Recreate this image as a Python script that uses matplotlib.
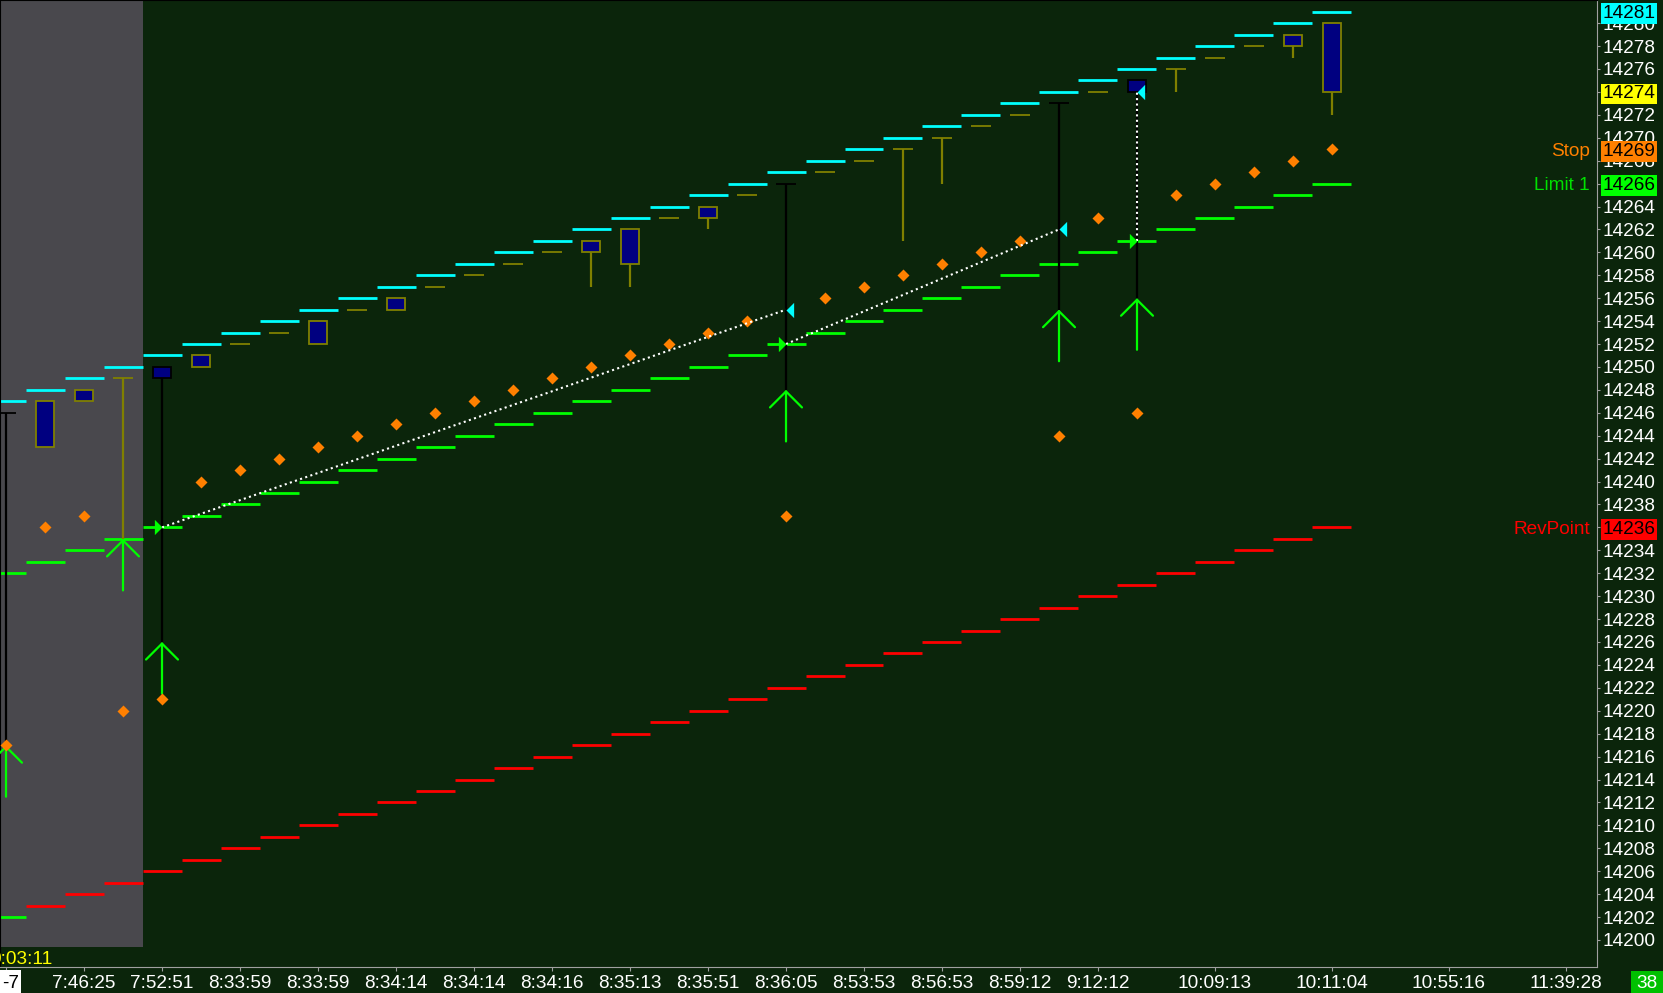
import matplotlib
matplotlib.use("Agg")
import matplotlib.pyplot as plt
import numpy as np
from matplotlib.patches import Rectangle
from matplotlib.transforms import blended_transform_factory

plt.rcParams['font.family'] = ['Liberation Sans', 'DejaVu Sans']

# --- bar data (one value per bar, 35 bars) ---
opens  = [14246, 14247, 14248, 14249, 14250, 14251, 14252, 14253, 14254, 14255,
          14256, 14257, 14258, 14259, 14260, 14261, 14262, 14263, 14264, 14265,
          14266, 14267, 14268, 14269, 14270, 14271, 14272, 14273, 14274, 14275,
          14276, 14277, 14278, 14279, 14280]
highs  = [14246, 14247, 14248, 14249, 14250, 14251, 14252, 14253, 14254, 14255,
          14256, 14257, 14258, 14259, 14260, 14261, 14262, 14263, 14264, 14265,
          14266, 14267, 14268, 14269, 14270, 14271, 14272, 14273, 14274, 14275,
          14276, 14277, 14278, 14279, 14280]
lows   = [14217, 14243, 14247, 14235, 14226, 14250, 14252, 14253, 14252, 14255,
          14255, 14257, 14258, 14259, 14260, 14257, 14257, 14263, 14262, 14265,
          14248, 14267, 14268, 14261, 14266, 14271, 14272, 14255, 14274, 14256,
          14274, 14277, 14278, 14277, 14272]
closes = [14246, 14243, 14247, 14249, 14249, 14250, 14252, 14253, 14252, 14255,
          14255, 14257, 14258, 14259, 14260, 14260, 14259, 14263, 14263, 14265,
          14266, 14267, 14268, 14269, 14270, 14271, 14272, 14273, 14274, 14274,
          14276, 14277, 14278, 14278, 14274]

upper  = [14247, 14248, 14249, 14250, 14251, 14252, 14253, 14254, 14255, 14256,
          14257, 14258, 14259, 14260, 14261, 14262, 14263, 14264, 14265, 14266,
          14267, 14268, 14269, 14270, 14271, 14272, 14273, 14274, 14275, 14276,
          14277, 14278, 14279, 14280, 14281]
limit  = [14232, 14233, 14234, 14235, 14236, 14237, 14238, 14239, 14240, 14241,
          14242, 14243, 14244, 14245, 14246, 14247, 14248, 14249, 14250, 14251,
          14252, 14253, 14254, 14255, 14256, 14257, 14258, 14259, 14260, 14261,
          14262, 14263, 14264, 14265, 14266]
revpt  = [14202, 14203, 14204, 14205, 14206, 14207, 14208, 14209, 14210, 14211,
          14212, 14213, 14214, 14215, 14216, 14217, 14218, 14219, 14220, 14221,
          14222, 14223, 14224, 14225, 14226, 14227, 14228, 14229, 14230, 14231,
          14232, 14233, 14234, 14235, 14236]
stop   = [14217, 14236, 14237, 14220, 14221, 14240, 14241, 14242, 14243, 14244,
          14245, 14246, 14247, 14248, 14249, 14250, 14251, 14252, 14253, 14254,
          14237, 14256, 14257, 14258, 14259, 14260, 14261, 14244, 14263, 14246,
          14265, 14266, 14267, 14268, 14269]

in_trade_bars = [0, 4, 20, 27, 29]   # bars drawn with black wick
rev_flip_bars = [0]                  # revpoint shown green

# entry signals (green up arrows)
arrow_bars  = [0, 3, 4, 20, 27, 29]
arrow_tips  = [14217, 14235, 14226, 14248, 14255, 14256]
arrow_tails = [14212.5, 14230.5, 14221.5, 14243.5, 14250.5, 14251.5]

# trades: entry -> exit
entry_bars  = [4, 20, 29]
entry_price = [14236, 14252, 14261]
exit_bars   = [20, 27, 29]
exit_price  = [14255, 14262, 14274]

tick_bars = [2, 4, 6, 8, 10, 12, 14, 16, 18, 20, 22, 24, 26, 28, 31, 34, 37, 40]
tick_labels = ['7:46:25', '7:52:51', '8:33:59', '8:33:59', '8:34:14', '8:34:14',
               '8:34:16', '8:35:13', '8:35:51', '8:36:05', '8:53:53', '8:56:53',
               '8:59:12', '9:12:12', '10:09:13', '10:11:04', '10:55:16', '11:39:28']

BG = '#0b250b'
GRAY = '#49484d'
NAVY = '#000080'
OLIVE = '#808000'
AXC = '#a0a0a0'
FS = 13.7

x = np.arange(len(closes))

fig = plt.figure(figsize=(16.63, 9.93), dpi=100)
fig.patch.set_facecolor(BG)
ax = fig.add_axes([0, 26 / 993, 1597 / 1663, 967 / 993])
ax.set_facecolor(BG)
ax.set_xlim(-0.154, 40.795)
ax.set_ylim(14197.64, 14282.02)

# older session shading
ax.axvspan(-1, 3.5, ymin=20 / 967, ymax=1, color=GRAY, lw=0, zorder=0)

# level lines
ax.hlines(upper, x - 0.5, x + 0.5, colors='#00ffff', lw=2, zorder=2)
ax.hlines(limit, x - 0.5, x + 0.5, colors='#00ff00', lw=2, zorder=2)
rev_cols = ['#00ff00' if i in rev_flip_bars else '#ff0000' for i in x]
ax.hlines(revpt, x - 0.5, x + 0.5, colors=rev_cols, lw=2, zorder=2)

# candles
for i in x:
    c = 'black' if i in in_trade_bars else OLIVE
    o, h, l, cl = opens[i], highs[i], lows[i], closes[i]
    if h > max(o, cl) or l < min(o, cl):
        ax.vlines(i, l, h, colors=c, lw=1.6, zorder=3)
    if o != cl:
        ax.add_patch(Rectangle((i - 0.23, min(o, cl)), 0.46, abs(o - cl),
                               fc=NAVY, ec=c, lw=1.3, zorder=4))
    else:
        ax.hlines(o, i - 0.26, i + 0.26, colors=c, lw=1.3, zorder=4)

# entry arrows
for b, tip, tail in zip(arrow_bars, arrow_tips, arrow_tails):
    ax.annotate('', xy=(b, tip), xytext=(b, tail),
                arrowprops=dict(arrowstyle='->,head_length=1,head_width=1',
                                mutation_scale=11.5, color='#00ff00', lw=1.6,
                                shrinkA=0, shrinkB=0), zorder=5)

# stop diamonds
ax.plot(x, stop, ls='none', marker='D', ms=5.8, color='#ff8000', mec='none', zorder=6)

# trade lines and markers
for eb, ep, xb, xp in zip(entry_bars, entry_price, exit_bars, exit_price):
    ax.plot([eb, xb], [ep, xp], color='white', lw=1.5, ls=(0, (1, 1.6)), zorder=7)
ax.plot(entry_bars, entry_price, ls='none', marker=[(0, 0), (-1, 1), (-1, -1)],
        ms=11, color='#00ff00', mec='none', zorder=8)
ax.plot(exit_bars, exit_price, ls='none', marker=[(0, 0), (1, 1), (1, -1)],
        ms=11, color='#00ffff', mec='none', zorder=8)

# axes styling
for s in ['left', 'top']:
    ax.spines[s].set_color('black')
    ax.spines[s].set_linewidth(0.8)
for s in ['right', 'bottom']:
    ax.spines[s].set_color(AXC)
    ax.spines[s].set_linewidth(0.8)

ax.yaxis.tick_right()
ax.set_yticks(np.arange(14200, 14281, 2))
ax.tick_params(axis='y', colors=AXC, labelcolor='white', length=2.2, width=0.8,
               pad=1.5, labelsize=FS)
ax.set_xticks([0] + tick_bars)
ax.set_xticklabels([''] + tick_labels)
ax.tick_params(axis='x', colors=AXC, labelcolor='white', length=3, width=0.8,
               pad=2.5, labelsize=FS)

# price boxes on the axis
trans = blended_transform_factory(ax.transAxes, ax.transData)
boxes = [(upper[-1], '#00ffff', None, None),
         (closes[-1], '#ffff00', None, None),
         (stop[-1], '#ff8000', 'Stop', '#ff8000'),
         (limit[-1], '#00ff00', 'Limit 1', '#00e000'),
         (revpt[-1], '#ff0000', 'RevPoint', '#ff0000')]
for v, col, name, ncol in boxes:
    ax.annotate(str(v), xy=(1, v), xycoords=trans, xytext=(5.5, 0),
                textcoords='offset pixels', ha='left', va='center_baseline',
                fontsize=FS, color='black', annotation_clip=False, zorder=10,
                bbox=dict(boxstyle='square,pad=0.1', fc=col, ec='none'))
    if name:
        ax.annotate(name, xy=(1, v), xycoords=trans, xytext=(-7, 0),
                    textcoords='offset pixels', ha='right', va='center_baseline',
                    fontsize=FS, color=ncol, annotation_clip=False, zorder=10)

# bottom corner labels
fig.patches.append(Rectangle((0, 0), 21 / 1663, 23 / 993, transform=fig.transFigure,
                             fc='white', ec='none'))
fig.text(2 / 1663, 11.3 / 993, '-7', color='black', fontsize=FS,
         ha='left', va='center_baseline')
fig.patches.append(Rectangle((1631 / 1663, 0), 32 / 1663, 22.3 / 993,
                             transform=fig.transFigure, fc='#00c000', ec='none'))
fig.text(1647 / 1663, 11.3 / 993, '38', color='white', fontsize=FS,
         ha='center', va='center_baseline')
fig.text(-10 / 1663, 35 / 993, '0:03:11', color='#ffff00', fontsize=FS,
         ha='left', va='center_baseline')

fig.savefig('out.png', dpi=100, facecolor=BG)
